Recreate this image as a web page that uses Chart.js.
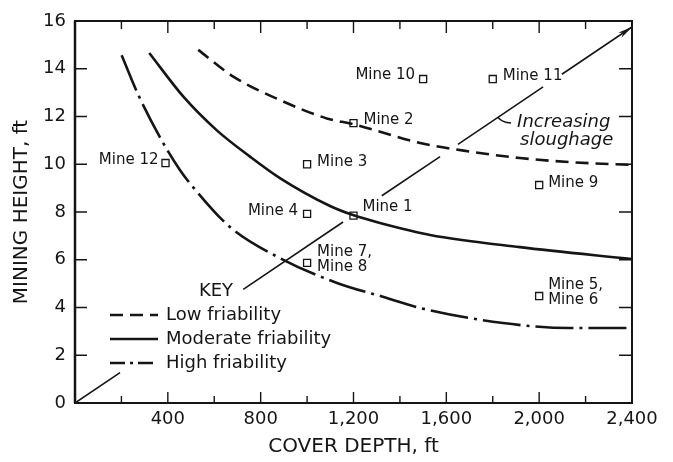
<!DOCTYPE html>
<html>
<head>
<meta charset="utf-8">
<script src="https://cdn.jsdelivr.net/npm/chart.js@4.4.1/dist/chart.umd.min.js"></script>
<style>
  html, body { margin: 0; padding: 0; background: #fff; }
</style>
</head>
<body>
<canvas id="sloughChart" width="673" height="462"></canvas>
<script>
// axis ticks
const depthTicks = [400, 800, 1200, 1600, 2000, 2400];
const depthMinorTicks = [200, 600, 1000, 1400, 1800, 2200];
const heightTicks = [0, 2, 4, 6, 8, 10, 12, 14, 16];

// friability curves (cover depth ft, mining height ft)
const lowDepth = [531, 682, 883, 1085, 1198, 1487, 1703, 1917, 2150, 2400];
const lowHeight = [14.79, 13.67, 12.69, 11.92, 11.68, 10.89, 10.53, 10.26, 10.08, 9.97];
const modDepth = [320, 467, 610, 754, 883, 1099, 1198, 1314, 1530, 1917, 2400];
const modHeight = [14.66, 12.83, 11.43, 10.32, 9.42, 8.25, 7.87, 7.54, 7.04, 6.53, 6.03];
const highDepth = [201, 273, 373, 452, 513, 668, 883, 1129, 1344, 1487, 1844, 2133, 2400];
const highHeight = [14.57, 12.9, 11.01, 9.76, 8.99, 7.37, 6.07, 5.03, 4.40, 3.98, 3.35, 3.14, 3.14];

// "increasing sloughage" arrow, broken where labels sit (null = gap)
const sloughDepth = [0, 194, null, 725, 1155, null, 1322, 1573, null, 1650, 2017, null, 2098, 2400];
const sloughHeight = [0, 1.27, null, 4.76, 7.58, null, 8.68, 10.32, null, 10.83, 13.24, null, 13.77, 15.75];

// mines
const mineNames = [['Mine 1'], ['Mine 2'], ['Mine 3'], ['Mine 4'], ['Mine 5,', 'Mine 6'],
                   ['Mine 7,', 'Mine 8'], ['Mine 9'], ['Mine 10'], ['Mine 11'], ['Mine 12']];
const mineDepth = [1200, 1200, 1000, 1000, 2000, 1000, 2000, 1500, 1800, 390];
const mineHeight = [7.85, 11.72, 10.0, 7.92, 4.48, 5.87, 9.13, 13.57, 13.57, 10.05];

const legendNames = ['Low friability', 'Moderate friability', 'High friability'];
const noteLines = ['Increasing', 'sloughage'];
const noteAnchor = [1823, 11.96]; // where the little leader touches the arrow

// label offsets in pixels from each mine marker
const labelPlacement = [
    { dx: 9, dy: -8, align: 'left' },
    { dx: 10, dy: -3, align: 'left' },
    { dx: 10, dy: -2, align: 'left' },
    { dx: -9, dy: -3, align: 'right' },
    { dx: 9, dy: -11, align: 'left' },
    { dx: 10, dy: -11, align: 'left' },
    { dx: 9, dy: -2, align: 'left' },
    { dx: -8, dy: -4, align: 'right' },
    { dx: 10, dy: -3, align: 'left' },
    { dx: -7, dy: -3, align: 'right' }
];

const INK = '#151515';
const FONT = 'DejaVu Sans';
const dashLow = [13, 7];
const dashHigh = [38, 6, 3, 6];

function pairs(xs, ys) {
    return xs.map((x, i) => ({ x: x, y: ys[i] }));
}

const frameAndNotes = {
    id: 'frameAndNotes',
    afterDatasetsDraw(chart) {
        const ctx = chart.ctx;
        const a = chart.chartArea;
        const xs = chart.scales.x, ys = chart.scales.y;
        ctx.save();
        ctx.strokeStyle = INK;
        ctx.fillStyle = INK;

        // frame
        ctx.lineWidth = 2;
        ctx.strokeRect(a.left, a.top, a.right - a.left, a.bottom - a.top);
        ctx.lineWidth = 2.5;
        ctx.beginPath(); ctx.moveTo(a.left, a.top); ctx.lineTo(a.left, a.bottom); ctx.stroke();

        // inward ticks
        ctx.lineWidth = 1.4;
        ctx.beginPath();
        depthTicks.concat(depthMinorTicks).forEach(v => {
            if (v >= 2400) return;
            const px = xs.getPixelForValue(v);
            const major = depthTicks.includes(v);
            ctx.moveTo(px, a.bottom); ctx.lineTo(px, a.bottom - (major ? 11 : 7));
            ctx.moveTo(px, a.top); ctx.lineTo(px, a.top + (major ? 12 : 8));
        });
        heightTicks.forEach(v => {
            if (v === 0 || v === 16) return;
            const py = ys.getPixelForValue(v);
            ctx.moveTo(a.left, py); ctx.lineTo(a.left + 12, py);
            ctx.moveTo(a.right, py); ctx.lineTo(a.right - 13, py);
        });
        ctx.stroke();

        // arrowhead at end of sloughage line
        const n = sloughDepth.length;
        const tx = xs.getPixelForValue(sloughDepth[n - 1]), ty = ys.getPixelForValue(sloughHeight[n - 1]);
        const bx = xs.getPixelForValue(sloughDepth[n - 2]), by = ys.getPixelForValue(sloughHeight[n - 2]);
        const ang = Math.atan2(ty - by, tx - bx);
        const len = 15, spread = 0.2;
        ctx.beginPath();
        ctx.moveTo(tx, ty);
        ctx.lineTo(tx - len * Math.cos(ang - spread), ty - len * Math.sin(ang - spread));
        ctx.lineTo(tx - 0.7 * len * Math.cos(ang), ty - 0.7 * len * Math.sin(ang));
        ctx.lineTo(tx - len * Math.cos(ang + spread), ty - len * Math.sin(ang + spread));
        ctx.closePath();
        ctx.fill();

        // mine labels
        ctx.font = '15px "' + FONT + '"';
        ctx.textBaseline = 'middle';
        mineNames.forEach((lines, i) => {
            const px = xs.getPixelForValue(mineDepth[i]);
            const py = ys.getPixelForValue(mineHeight[i]);
            const p = labelPlacement[i];
            ctx.textAlign = p.align;
            lines.forEach((t, k) => ctx.fillText(t, px + p.dx, py + p.dy + k * 15.5));
        });

        // note with leader
        const ax = xs.getPixelForValue(noteAnchor[0]), ay = ys.getPixelForValue(noteAnchor[1]);
        ctx.lineWidth = 1.4;
        ctx.beginPath();
        ctx.moveTo(ax, ay);
        ctx.quadraticCurveTo(ax + 4, ay + 5, ax + 13, ay + 5.5);
        ctx.stroke();
        ctx.font = 'italic 18px "' + FONT + '"';
        ctx.textAlign = 'left';
        ctx.fillText(noteLines[0], ax + 19, ay + 5);
        ctx.fillText(noteLines[1], ax + 22, ay + 23);

        // key
        ctx.font = '18px "' + FONT + '"';
        ctx.textAlign = 'center';
        ctx.fillText('KEY', 216, 291);
        const dashes = [dashLow, [], [15, 5, 3, 5]];
        ctx.textAlign = 'left';
        legendNames.forEach((name, i) => {
            const ly = 315 + i * 24;
            ctx.lineWidth = 2.4;
            ctx.setLineDash(dashes[i]);
            ctx.beginPath(); ctx.moveTo(110, ly); ctx.lineTo(158, ly); ctx.stroke();
            ctx.setLineDash([]);
            ctx.fillText(name, 166, ly);
        });
        ctx.restore();
    }
};

const lineBase = {
    showLine: true,
    borderColor: INK,
    borderWidth: 2.6,
    pointRadius: 0,
    pointHoverRadius: 0,
    cubicInterpolationMode: 'monotone',
    fill: false
};

new Chart(document.getElementById('sloughChart'), {
    type: 'scatter',
    data: {
        datasets: [
            Object.assign({}, lineBase, { label: legendNames[0], data: pairs(lowDepth, lowHeight), borderDash: dashLow }),
            Object.assign({}, lineBase, { label: legendNames[1], data: pairs(modDepth, modHeight) }),
            Object.assign({}, lineBase, { label: legendNames[2], data: pairs(highDepth, highHeight), borderDash: dashHigh }),
            Object.assign({}, lineBase, { label: 'Increasing sloughage', data: pairs(sloughDepth, sloughHeight),
                borderWidth: 1.6, cubicInterpolationMode: 'default', tension: 0, spanGaps: false }),
            {
                label: 'Mines',
                data: pairs(mineDepth, mineHeight),
                pointStyle: 'rect',
                pointRadius: 5,
                pointBackgroundColor: '#fff',
                pointBorderColor: INK,
                pointBorderWidth: 1.3,
                showLine: false
            }
        ]
    },
    options: {
        responsive: false,
        animation: false,
        devicePixelRatio: 1,
        layout: { padding: { top: 21, right: 41, left: 0, bottom: 0 } },
        plugins: { legend: { display: false }, tooltip: { enabled: false } },
        scales: {
            x: {
                type: 'linear',
                min: 0,
                max: 2400,
                grid: { display: false, drawTicks: false },
                border: { display: false },
                afterBuildTicks: s => { s.ticks = depthTicks.map(v => ({ value: v })); },
                afterFit: s => { s.height = 59; },
                ticks: {
                    color: INK,
                    font: { family: FONT, size: 18 },
                    padding: 6,
                    maxRotation: 0,
                    autoSkip: false,
                    callback: v => v.toLocaleString('en-US')
                },
                title: {
                    display: true,
                    text: 'COVER DEPTH, ft',
                    color: INK,
                    font: { family: FONT, size: 20 },
                    padding: { top: 0, bottom: 3 }
                }
            },
            y: {
                type: 'linear',
                min: 0,
                max: 16,
                grid: { display: false, drawTicks: false },
                border: { display: false },
                afterBuildTicks: s => { s.ticks = heightTicks.map(v => ({ value: v })); },
                afterFit: s => { s.width = 75; },
                ticks: {
                    color: INK,
                    font: { family: FONT, size: 18 },
                    padding: 9
                },
                title: {
                    display: true,
                    text: 'MINING HEIGHT, ft',
                    color: INK,
                    font: { family: FONT, size: 20 },
                    padding: { top: 10, bottom: 0 }
                }
            }
        }
    },
    plugins: [frameAndNotes]
});
</script>
</body>
</html>
